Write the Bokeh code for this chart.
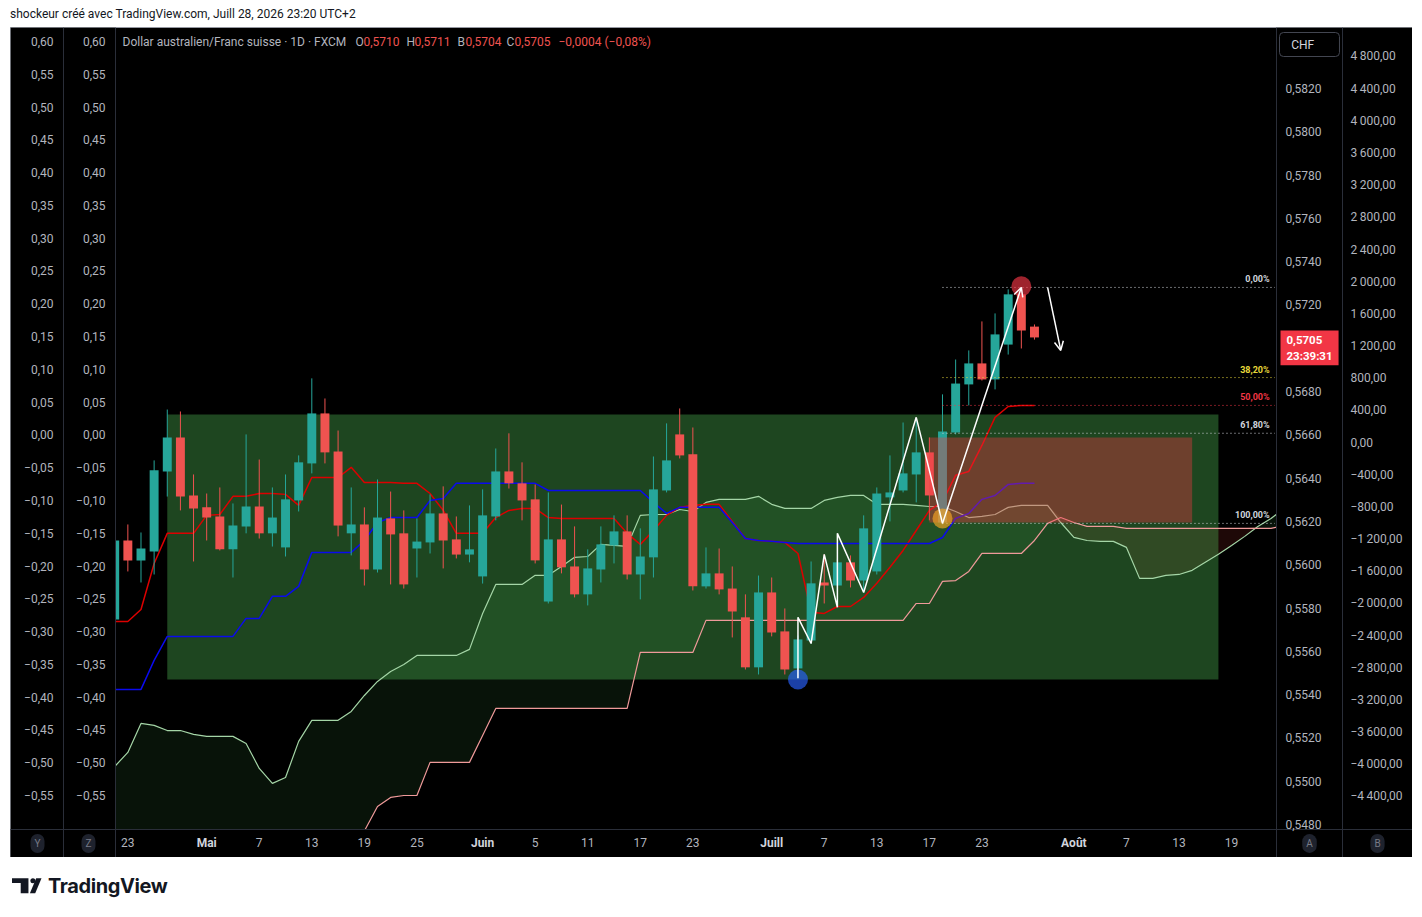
from bokeh.plotting import figure
from bokeh.models import (Range1d, LinearAxis, FixedTicker, CustomJSTickFormatter,
                          Label, Arrow, OpenHead, Div, ColumnDataSource)
from bokeh.layouts import column
from bokeh.embed import file_html
from bokeh.resources import INLINE
from bokeh.core.properties import value
import numpy as np

# ---------------- data (AUD/CHF daily, bar index 0 = 23 Apr) ----------------
bar_index = list(range(-1, 70))
open_ = [0.55747, 0.56112, 0.56020, 0.56061, 0.56431, 0.56588, 0.56320, 0.56265, 0.56223, 0.56071,
         0.56177, 0.56269, 0.56145, 0.56080, 0.56297, 0.56468, 0.56699, 0.56523, 0.56145, 0.56186,
         0.55978, 0.56214, 0.56145, 0.56075, 0.56103, 0.56237, 0.56117, 0.56047, 0.55946, 0.56223,
         0.56431, 0.56376, 0.56302, 0.55830, 0.56117, 0.55992, 0.55863, 0.55978, 0.56089, 0.56154,
         0.55955, 0.56034, 0.56343, 0.56602, 0.56510, 0.55900, 0.55960, 0.55890, 0.55757, 0.55526,
         0.55872, 0.55692, 0.55521, 0.55650, 0.55918, 0.55904, 0.56011, 0.55927, 0.55969, 0.56311,
         0.56343, 0.56417, 0.56519, 0.56195, 0.56611, 0.56833, 0.56930, 0.56856, 0.57017, 0.57249,
         0.5710]
high = [0.56200, 0.56186, 0.56149, 0.56482, 0.56717, 0.56708, 0.56417, 0.56329, 0.56357, 0.56283,
        0.56602, 0.56486, 0.56357, 0.56417, 0.56505, 0.56861, 0.56768, 0.56620, 0.56357, 0.56265,
        0.56394, 0.56338, 0.56251, 0.56214, 0.56325, 0.56362, 0.56223, 0.56274, 0.56348, 0.56537,
        0.56607, 0.56473, 0.56371, 0.56334, 0.56278, 0.56177, 0.56071, 0.56177, 0.56228, 0.56228,
        0.56168, 0.56500, 0.56653, 0.56722, 0.56634, 0.56080, 0.56075, 0.55992, 0.55863, 0.55950,
        0.55941, 0.55798, 0.55673, 0.56015, 0.56048, 0.56029, 0.56043, 0.56228, 0.56357, 0.56505,
        0.56657, 0.56676, 0.56588, 0.56787, 0.56948, 0.56990, 0.57124, 0.57161, 0.57272, 0.57281,
        0.5711]
low = [0.55743, 0.55969, 0.55918, 0.55955, 0.56315, 0.56251, 0.56015, 0.56112, 0.56066, 0.55941,
       0.56145, 0.56121, 0.56084, 0.56038, 0.56246, 0.56422, 0.56468, 0.56131, 0.56043, 0.55904,
       0.55964, 0.55909, 0.55890, 0.55941, 0.56052, 0.55983, 0.56029, 0.56011, 0.55913, 0.56205,
       0.56352, 0.56205, 0.56006, 0.55821, 0.55960, 0.55849, 0.55812, 0.55918, 0.56006, 0.55932,
       0.55840, 0.55941, 0.56334, 0.56491, 0.55881, 0.55890, 0.55863, 0.55664, 0.55516, 0.55493,
       0.55669, 0.55493, 0.55475, 0.55636, 0.55821, 0.55881, 0.55895, 0.55881, 0.55955, 0.56200,
       0.56334, 0.56288, 0.56205, 0.56186, 0.56602, 0.56736, 0.56851, 0.56810, 0.56971, 0.56999,
       0.5704]
close = [0.56112, 0.56020, 0.56075, 0.56436, 0.56588, 0.56315, 0.56260, 0.56218, 0.56071, 0.56181,
         0.56269, 0.56145, 0.56218, 0.56302, 0.56473, 0.56699, 0.56519, 0.56181, 0.56186, 0.55978,
         0.56218, 0.56140, 0.55909, 0.56107, 0.56237, 0.56112, 0.56047, 0.56071, 0.56228, 0.56431,
         0.56376, 0.56297, 0.56020, 0.56117, 0.55988, 0.55863, 0.55983, 0.56094, 0.56154, 0.55955,
         0.56038, 0.56348, 0.56482, 0.56505, 0.55900, 0.55960, 0.55886, 0.55784, 0.55526, 0.55872,
         0.55687, 0.55516, 0.55655, 0.55914, 0.55904, 0.56011, 0.55927, 0.56168, 0.56329, 0.56334,
         0.56422, 0.56519, 0.56320, 0.56616, 0.56837, 0.56930, 0.56856, 0.57064, 0.57249, 0.57082,
         0.5705]

# Ichimoku lines
tenkan = [0.55738, 0.55738, 0.55793, 0.56006, 0.56145, 0.56145, 0.56145, 0.56228, 0.56232, 0.56316,
          0.56316, 0.56329, 0.56329, 0.56325, 0.56274, 0.56403, 0.56403, 0.56403, 0.56450, 0.56380,
          0.56380, 0.56380, 0.56376, 0.56376, 0.56329, 0.56251, 0.56145, 0.56145, 0.56145, 0.56218,
          0.56251, 0.56260, 0.56260, 0.56218, 0.56214, 0.56214, 0.56214, 0.56214, 0.56214, 0.56145,
          0.56094, 0.56158, 0.56228, 0.56265, 0.56274, 0.56279, 0.56279, 0.56200, 0.56121, 0.56112,
          0.56108, 0.56103, 0.56052, 0.55780, 0.55775, 0.55807, 0.55807, 0.55849, 0.55914, 0.55988,
          0.56066, 0.56158, 0.56251, 0.56292, 0.56413, 0.56431, 0.56551, 0.56681, 0.56731, 0.56736,
          0.56736]
kijun = [0.55424, 0.55424, 0.55424, 0.55558, 0.55669, 0.55669, 0.55669, 0.55669, 0.55669, 0.55669,
         0.55752, 0.55752, 0.55854, 0.55854, 0.55900, 0.56057, 0.56057, 0.56057, 0.56057, 0.56112,
         0.56195, 0.56218, 0.56218, 0.56218, 0.56297, 0.56306, 0.56376, 0.56376, 0.56376, 0.56376,
         0.56376, 0.56376, 0.56376, 0.56343, 0.56343, 0.56343, 0.56343, 0.56343, 0.56343, 0.56343,
         0.56343, 0.56288, 0.56237, 0.56265, 0.56265, 0.56265, 0.56265, 0.56195, 0.56121, 0.56112,
         0.56108, 0.56103, 0.56098, 0.56098, 0.56098, 0.56098, 0.56098, 0.56098, 0.56098, 0.56098,
         0.56098, 0.56098, 0.56098, 0.56126, 0.56214, 0.56237, 0.56302, 0.56320, 0.56371, 0.56376,
         0.56376]

cloud_index = list(range(-1, 89))
span_a = [0.55068, 0.55133, 0.55267, 0.55258, 0.55234, 0.55234, 0.55216, 0.55207, 0.55207, 0.55207,
          0.55174, 0.55059, 0.54990, 0.55017, 0.55184, 0.55281, 0.55281, 0.55281, 0.55322, 0.55396,
          0.55461, 0.55507, 0.55539, 0.55581, 0.55581, 0.55581, 0.55581, 0.55609, 0.55775, 0.55909,
          0.55909, 0.55909, 0.55951, 0.55951, 0.55992, 0.56034, 0.56038, 0.56094, 0.56089, 0.56085,
          0.56228, 0.56232, 0.56232, 0.56255, 0.56246, 0.56288, 0.56302, 0.56302, 0.56302, 0.56316,
          0.56279, 0.56260, 0.56260, 0.56260, 0.56297, 0.56311, 0.56320, 0.56320, 0.56279, 0.56279,
          0.56279, 0.56274, 0.56269, 0.56269, 0.56246, 0.56218, 0.56223, 0.56232, 0.56265, 0.56274,
          0.56274, 0.56274, 0.56195, 0.56126, 0.56112, 0.56108, 0.56108, 0.56080, 0.55937, 0.55937,
          0.55951, 0.55955, 0.55974, 0.56011, 0.56048, 0.56089, 0.56131, 0.56177, 0.56214, 0.56260]
span_b = [0.5460, 0.5460, 0.5460, 0.5460, 0.5460, 0.5460, 0.5460, 0.5460, 0.5460, 0.5460,
          0.5460, 0.5460, 0.5460, 0.5460, 0.5460, 0.5460, 0.5460, 0.5460, 0.5460, 0.5477,
          0.54883, 0.54925, 0.54934, 0.54934, 0.55087, 0.55087, 0.55087, 0.55087, 0.55211, 0.55336,
          0.55336, 0.55336, 0.55336, 0.55336, 0.55336, 0.55336, 0.55336, 0.55336, 0.55336, 0.55336,
          0.55595, 0.55595, 0.55595, 0.55595, 0.55595, 0.55743, 0.55743, 0.55743, 0.55743, 0.55743,
          0.55743, 0.55743, 0.55743, 0.55743, 0.55743, 0.55743, 0.55743, 0.55743, 0.55743, 0.55743,
          0.55743, 0.55821, 0.55821, 0.55923, 0.55927, 0.55969, 0.56052, 0.56052, 0.56052, 0.56052,
          0.56112, 0.56191, 0.56218, 0.56195, 0.56177, 0.56177, 0.56177, 0.56168, 0.56168, 0.56168,
          0.56168, 0.56168, 0.56168, 0.56168, 0.56168, 0.56168, 0.56168, 0.56168, 0.56168, 0.56181]

# drawings
range_box = dict(left=3, right=83, top=0.56694, bottom=0.55470)
zone_box = dict(left=61, right=81, top=0.56588, bottom=0.56195)
zig_x = [51, 51, 52, 53, 54, 54, 56, 60, 62]
zig_y = [0.55475, 0.55757, 0.55636, 0.56048, 0.55803, 0.56145, 0.55872, 0.56681, 0.56191]
arrow_up = (62, 0.56191, 68, 0.57281)
arrow_down = (70, 0.57281, 71, 0.56990)
marker_x = [51, 62, 68]
marker_y = [0.55470, 0.56214, 0.57286]
marker_colors = ["#2962FF", "#F9A825", "#F23645"]
fib_high, fib_low = 0.57281, 0.56191
fib_ratios = [0.0, 0.382, 0.5, 0.618, 1.0]
fib_labels = ["0,00%", "38,20%", "50,00%", "61,80%", "100,00%"]
fib_colors = ["#D1D4DC", "#E8D83A", "#F23645", "#D1D4DC", "#D1D4DC"]
fib_x = [62, 87.3]
fib_label_x = 86.9

price_ticks = [0.548, 0.550, 0.552, 0.554, 0.556, 0.558, 0.560, 0.562, 0.564, 0.566, 0.568,
               0.572, 0.574, 0.576, 0.578, 0.580, 0.582]
ind_ticks = [0.60, 0.55, 0.50, 0.45, 0.40, 0.35, 0.30, 0.25, 0.20, 0.15, 0.10, 0.05, 0.0,
             -0.05, -0.10, -0.15, -0.20, -0.25, -0.30, -0.35, -0.40, -0.45, -0.50, -0.55]
vol_ticks = [4800, 4400, 4000, 3600, 3200, 2800, 2400, 2000, 1600, 1200, 800, 400, 0,
             -400, -800, -1200, -1600, -2000, -2400, -2800, -3200, -3600, -4000, -4400]
date_ticks = [0, 6, 10, 14, 18, 22, 27, 31, 35, 39, 43, 49, 53, 57, 61, 65, 72, 76, 80, 84]
date_labels = ["23", "Mai", "7", "13", "19", "25", "Juin", "5", "11", "17", "23", "Juill",
               "7", "13", "17", "23", "Août", "7", "13", "19"]

# layout of the chart window (bar-index / price units)
X_LO, X_HI = -8.931, 97.77          # whole black window
Y_LO, Y_HI = 0.546475, 0.584818
PLOT_X_LO, PLOT_X_HI, PLOT_Y_LO = -0.94, 87.42, 0.547769   # candle pane edges
OUTER_LEFT_X, FAR_RIGHT_X = -4.898, 92.44

TEAL, RED = "#26A69A", "#EF5350"
AX_COL = "#B2B5BE"
SEP = "#2A2E39"
FONT = "Roboto"

# ---------------- figure ----------------
p = figure(width=1402, height=830, title=None,
           x_range=Range1d(X_LO, X_HI), y_range=Range1d(Y_LO, Y_HI),
           x_axis_location=None, y_axis_location=None,
           output_backend="svg", toolbar_location=None,
           min_border=0, min_border_left=0, min_border_right=0, min_border_top=0, min_border_bottom=0,
           background_fill_color="black", border_fill_color="black",
           outline_line_color="#9598A1", margin=(0, 0, 0, 10))
p.xgrid.visible = False
p.ygrid.visible = False
p.extra_y_ranges = {"ind": Range1d(-0.64456, 0.62135), "vol": Range1d(-5158.4, 5160.5)}


def style_axis(ax, standoff, color=AX_COL, fstyle="normal"):
    ax.major_tick_line_color = None
    ax.minor_tick_line_color = None
    ax.major_tick_out = 0
    ax.major_tick_in = 0
    ax.minor_tick_out = 0
    ax.minor_tick_in = 0
    ax.axis_line_color = SEP
    ax.major_label_text_color = color
    ax.major_label_text_font = FONT
    ax.major_label_text_font_size = "12px"
    ax.major_label_text_font_style = fstyle
    ax.major_label_standoff = standoff


# ---------------- cloud ----------------
A = np.array(span_a)
B = np.array(span_b)
top_ab = np.maximum(A, B)
p.varea(x=cloud_index, y1=B, y2=top_ab, fill_color="#43A047", fill_alpha=0.12)
p.varea(x=cloud_index, y1=A, y2=top_ab, fill_color="#F44336", fill_alpha=0.12)

# range box
p.quad(left=[range_box["left"]], right=[range_box["right"]], top=[range_box["top"]],
       bottom=[range_box["bottom"]], fill_color="#4CAF50", fill_alpha=0.4, line_color=None)

# ichimoku lines
p.line(cloud_index, span_a, line_color="#A5D6A7", line_width=1.2)
p.line(cloud_index, span_b, line_color="#EF9A9A", line_width=1.2)
p.line(bar_index, tenkan, line_color="#DD0000", line_width=1.5)
p.line(bar_index, kijun, line_color="#0A0AEE", line_width=1.5)

# candles
o = np.array(open_); c = np.array(close)
colors = [TEAL if cc >= oo else RED for oo, cc in zip(open_, close)]
src = ColumnDataSource(dict(x=bar_index, high=high, low=low, top=np.maximum(o, c),
                            bottom=np.minimum(o, c), color=colors))
p.segment(x0="x", y0="low", x1="x", y1="high", line_color="color", line_width=1, source=src)
p.vbar(x="x", width=0.68, top="top", bottom="bottom", fill_color="color", line_color=None, source=src)

# zone box (on top, translucent)
p.quad(left=[zone_box["left"]], right=[zone_box["right"]], top=[zone_box["top"]],
       bottom=[zone_box["bottom"]], fill_color="#F23645", fill_alpha=0.38, line_color=None)

# fibonacci
fib_levels = [fib_high - r * (fib_high - fib_low) for r in fib_ratios]
for lvl, col in zip(fib_levels, fib_colors):
    p.line(fib_x, [lvl, lvl], line_color=col, line_width=1, line_dash="1 3")
p.text(x=[fib_label_x] * len(fib_levels), y=fib_levels, text=fib_labels, text_color=fib_colors,
       text_align="right", text_baseline="bottom", y_offset=-3, text_font=value(FONT),
       text_font_size="9px", text_font_style="bold")

# markers
p.scatter(marker_x, marker_y, size=20, fill_color=marker_colors, fill_alpha=0.65, line_color=None)

# zigzag drawing
p.line(zig_x, zig_y, line_color="white", line_width=1.5)

# black scale panes (mask the pane edges)
p.quad(left=[X_LO, PLOT_X_HI, X_LO], right=[PLOT_X_LO, X_HI, X_HI],
       bottom=[Y_LO, Y_LO, Y_LO], top=[Y_HI, Y_HI, PLOT_Y_LO],
       fill_color="black", line_color=None)

for (xs, ys, xe, ye) in (arrow_up, arrow_down):
    p.add_layout(Arrow(end=OpenHead(size=9, line_color="white", line_width=1.5),
                       x_start=xs, y_start=ys, x_end=xe, y_end=ye,
                       line_color="white", line_width=1.5))

# ---------------- axes (fixed inside the window) ----------------
pax = LinearAxis(fixed_location=PLOT_X_HI, ticker=FixedTicker(ticks=price_ticks),
                 formatter=CustomJSTickFormatter(code="return tick.toFixed(4).replace('.', ',');"))
style_axis(pax, 9)
p.add_layout(pax, "right")

vol_fmt = CustomJSTickFormatter(code="""
var t = Math.round(tick);
var s = Math.abs(t).toFixed(2).split('.');
var ip = s[0];
if (ip.length > 3) { ip = ip.slice(0, ip.length - 3) + '\\u2009' + ip.slice(ip.length - 3); }
return (t < 0 ? '\\u2212' : '') + ip + ',' + s[1];
""")
vax = LinearAxis(y_range_name="vol", fixed_location=FAR_RIGHT_X,
                 ticker=FixedTicker(ticks=vol_ticks), formatter=vol_fmt)
style_axis(vax, 8)
p.add_layout(vax, "right")

ind_fmt = CustomJSTickFormatter(code="""
var t = Math.abs(tick) < 1e-9 ? 0 : tick;
return (t < 0 ? '\\u2212' : '') + Math.abs(t).toFixed(2).replace('.', ',');
""")
for loc in (PLOT_X_LO, OUTER_LEFT_X):
    iax = LinearAxis(y_range_name="ind", fixed_location=loc,
                     ticker=FixedTicker(ticks=ind_ticks), formatter=ind_fmt)
    style_axis(iax, 10)
    p.add_layout(iax, "left")

day_ticks = [t for t, l in zip(date_ticks, date_labels) if l.isdigit()]
month_ticks = [t for t, l in zip(date_ticks, date_labels) if not l.isdigit()]
overrides = {t: l for t, l in zip(date_ticks, date_labels)}
xd = LinearAxis(fixed_location=PLOT_Y_LO, ticker=FixedTicker(ticks=day_ticks),
                major_label_overrides=overrides)
style_axis(xd, 9)
p.add_layout(xd, "below")
xm = LinearAxis(fixed_location=PLOT_Y_LO, ticker=FixedTicker(ticks=month_ticks),
                major_label_overrides=overrides)
style_axis(xm, 7, color="#D1D4DC", fstyle="bold")
p.add_layout(xm, "below")

# ---------------- header / labels (screen px from window bottom-left) ----------------
def lab(x, y, text, color=AX_COL, size="12px", style="normal", **kw):
    p.add_layout(Label(x=x, y=y, x_units="screen", y_units="screen", text=text,
                       text_color=color, text_font=FONT, text_font_size=size,
                       text_font_style=style, text_baseline=kw.pop("baseline", "middle"), **kw))

HY = 816
lab(112, HY, "Dollar australien/Franc suisse · 1D · FXCM")
for x, t, col in [(345, "O", AX_COL), (353, "0,5710", RED), (396, "H", AX_COL), (404, "0,5711", RED),
                  (447, "B", AX_COL), (455, "0,5704", RED), (496, "C", AX_COL), (504, "0,5705", RED),
                  (548, "\u22120,0004 (\u22120,08%)", RED)]:
    lab(x, HY, t, col)

lab(1270, 527, "0,5705\n23:39:31", color="white", size="11.5px", style="bold", baseline="top",
    background_fill_color="#F23645", padding=(6, 2))
lab(1269, 813, "\u2007CHF\u2007\u2007\u2007", color="#D1D4DC", size="12px",
    border_line_color="#434651", border_radius=4, padding=5)
for x, t in [(27, "Y"), (78, "Z"), (1299, "A"), (1367, "B")]:
    lab(x, 14, t, color="#787B86", size="10px", text_align="center",
        background_fill_color="#1E222D", border_radius=9, padding=4)

# ---------------- page ----------------
title_div = Div(text="shockeur créé avec TradingView.com, Juill 28, 2026 23:20 UTC+2",
                width=1400, height=19, margin=(8, 0, 0, 8),
                styles={"font-family": "Roboto", "font-size": "12px", "color": "#131722",
                        "line-height": "12px", "padding-left": "2px"})
spacer = Div(text="", width=10, height=14, margin=(0, 0, 0, 0))
logo_html = ('<div style="display:flex;align-items:center;height:30px;padding-left:4px;">'
             '<svg width="30" height="16" viewBox="0 0 31 16" style="margin-right:6px">'
             '<polygon points="0,0 17,0 17,15.5 9,15.5 9,5 0,5" fill="#131722"/>'
             '<circle cx="21.6" cy="2.6" r="2.6" fill="#131722"/>'
             '<polygon points="18.5,15.5 25,0 30.5,0 24,15.5" fill="#131722"/></svg>'
             '<span style="font-family:Inter;font-weight:700;font-size:20px;color:#131722;'
             'letter-spacing:-0.4px;">TradingView</span></div>')
logo_div = Div(text=logo_html, width=300, height=30, margin=(0, 0, 0, 8))

page = column(title_div, p, spacer, logo_div, spacing=0)
open("out.html", "w", encoding="utf-8").write(file_html(page, INLINE))
